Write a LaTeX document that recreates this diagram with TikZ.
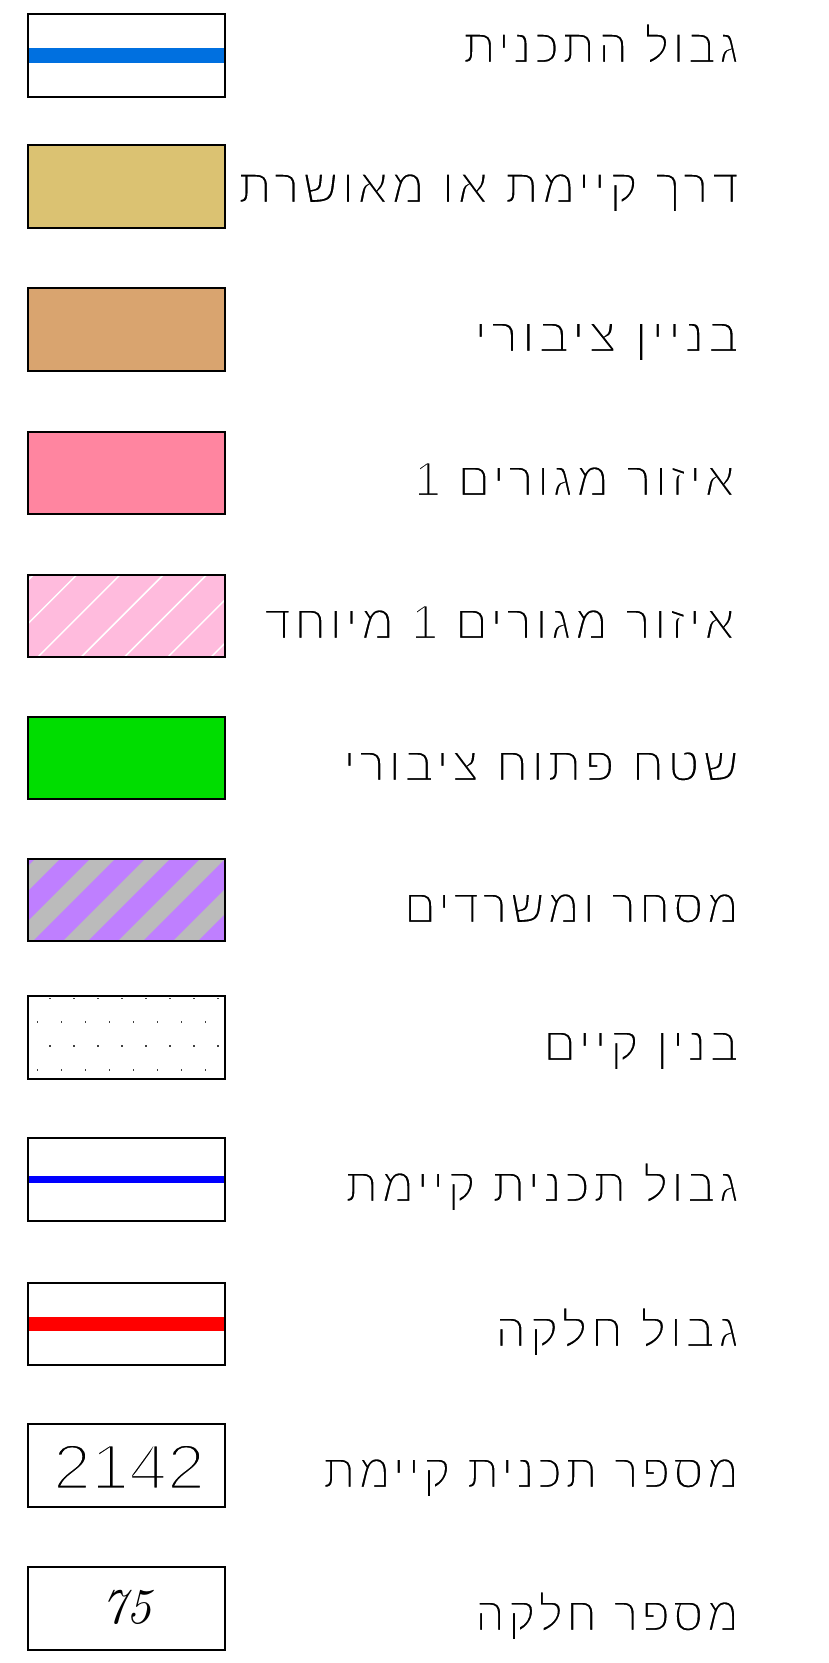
\documentclass[tikz,border=0pt]{standalone}
\usepackage{fontspec}
\usepackage{graphicx}
\TeXXeTstate=1
\newfontfamily\hebfont[Script=Hebrew,LetterSpace=6]{Liberation Sans}
\newfontfamily\numfont{Liberation Sans}
\newcommand{\thinon}[1]{\special{pdf:literal direct 2 Tr 1 1 1 RG #1 w}}
\newcommand{\thinoff}{\special{pdf:literal direct 0 Tr}}
\newcommand{\heb}[2]{\resizebox{#1pt}{\height}{\hebfont\fontsize{49}{56}\selectfont\thinon{2.2}#2\thinoff}}
\definecolor{planblue}{HTML}{0070E0}
\definecolor{roadtan}{HTML}{DBC272}
\definecolor{pubbrown}{HTML}{D9A46F}
\definecolor{respink}{HTML}{FF85A0}
\definecolor{spink}{HTML}{FFBBDD}
\definecolor{opengreen}{HTML}{00DD00}
\definecolor{compurple}{HTML}{BF7FFF}
\definecolor{comgrey}{HTML}{BBBBBB}
\definecolor{oldblue}{HTML}{0000FF}
\definecolor{parcelred}{HTML}{FF0000}
\tikzset{
  legbox/.style={draw=black, line width=1.6pt, minimum width=197pt, minimum height=82.5pt, inner sep=0pt, outer sep=0pt},
  hebtext/.style={anchor=base east, inner sep=0pt, outer sep=0pt},
  border/.style={draw=black, line width=1.6pt},
}
\begin{document}
\begin{tikzpicture}[x=1pt,y=-1pt]
\useasboundingbox[fill=white] (0,0) rectangle (828,1663);

% 1
\node[legbox, fill=white] (b1) at (126.5,55.5) {};
\draw[planblue, line width=15pt] (b1.west) -- (b1.east);
\draw[border] (b1.south west) rectangle (b1.north east);
\node[hebtext] (t1) at (739,63) {\heb{276}{\beginR גבול התכנית\endR}};

% 2
\node[legbox, fill=roadtan] (b2) at (126.5,186.5) {};
\node[hebtext] (t2) at (739,203) {\heb{501}{\beginR דרך קיימת או מאושרת\endR}};

% 3
\node[legbox, fill=pubbrown] (b3) at (126.5,329.5) {};
\node[hebtext] (t3) at (739,352) {\heb{265}{\beginR בניין ציבורי\endR}};

% 4
\node[legbox, fill=respink] (b4) at (126.5,473) {};
\node[hebtext] (t4) at (735,496) {\heb{321}{\beginR איזור מגורים 1\endR}};

% 5
\node[legbox, fill=spink] (b5) at (126.5,616) {};
\begin{scope}
\clip (b5.south west) rectangle (b5.north east);
\foreach \c in {565,608.3,651.6,694.9,738.2,781.5,824.8,868.1,911.4}{
  \draw[white, line width=1.5pt] (\c-560,560) -- (\c-680,680);
}
\end{scope}
\draw[border] (b5.south west) rectangle (b5.north east);
\node[hebtext] (t5) at (735,639) {\heb{471}{\beginR איזור מגורים 1 מיוחד\endR}};

% 6
\node[legbox, fill=opengreen] (b6) at (126.5,758) {};
\node[hebtext] (t6) at (739,781) {\heb{396}{\beginR שטח פתוח ציבורי\endR}};

% 7
\node[legbox, fill=comgrey] (b7) at (126.5,900) {};
\begin{scope}
\clip (b7.south west) rectangle (b7.north east);
\foreach \c in {824,879,934,989,1044,1099,1154,1209}{
  \draw[compurple, line width=21pt] (\c-840,840) -- (\c-960,960);
}
\end{scope}
\draw[border] (b7.south west) rectangle (b7.north east);
\node[hebtext] (t7) at (739,923) {\heb{335}{\beginR מסחר ומשרדים\endR}};

% 8
\node[legbox, fill=white] (b8) at (126.5,1037.5) {};
\foreach \i in {0,...,7}{
  \fill[black!75] (50+24*\i-0.8,998.3-0.8) rectangle ++(1.6,1.6);
  \fill[black!75] (50+24*\i-0.8,1046-0.8) rectangle ++(1.6,1.6);
  \fill[black!75] (37.3+24*\i-0.8,1022-0.8) rectangle ++(1.6,1.6);
  \fill[black!75] (37.3+24*\i-0.8,1070-0.8) rectangle ++(1.6,1.6);
}
\node[hebtext] (t8) at (739,1061) {\heb{196}{\beginR בנין קיים\endR}};

% 9
\node[legbox, fill=white] (b9) at (126.5,1179.5) {};
\draw[oldblue, line width=7pt] (b9.west) -- (b9.east);
\draw[border] (b9.south west) rectangle (b9.north east);
\node[hebtext] (t9) at (739,1202) {\heb{394}{\beginR גבול תכנית קיימת\endR}};

% 10
\node[legbox, fill=white] (b10) at (126.5,1324) {};
\draw[parcelred, line width=14pt] (b10.west) -- (b10.east);
\draw[border] (b10.south west) rectangle (b10.north east);
\node[hebtext] (t10) at (739,1347) {\heb{244}{\beginR גבול חלקה\endR}};

% 11
\node[legbox, fill=white] (b11) at (126.5,1465.5) {};
\node[anchor=base, inner sep=0pt] (n11) at (129,1489) {\resizebox{152pt}{\height}{\numfont\fontsize{64}{70}\selectfont\thinon{3}2142\thinoff}};
\node[hebtext] (t11) at (739,1488) {\heb{416}{\beginR מספר תכנית קיימת\endR}};

% 12
\node[legbox, fill=white] (b12) at (126.5,1608.5) {};
\node[anchor=base, inner sep=0pt] (n12) at (126,1623) {\fontsize{50}{56}\selectfont\itshape 75};
\node[hebtext] (t12) at (739,1631) {\heb{264}{\beginR מספר חלקה\endR}};

\end{tikzpicture}
\end{document}
